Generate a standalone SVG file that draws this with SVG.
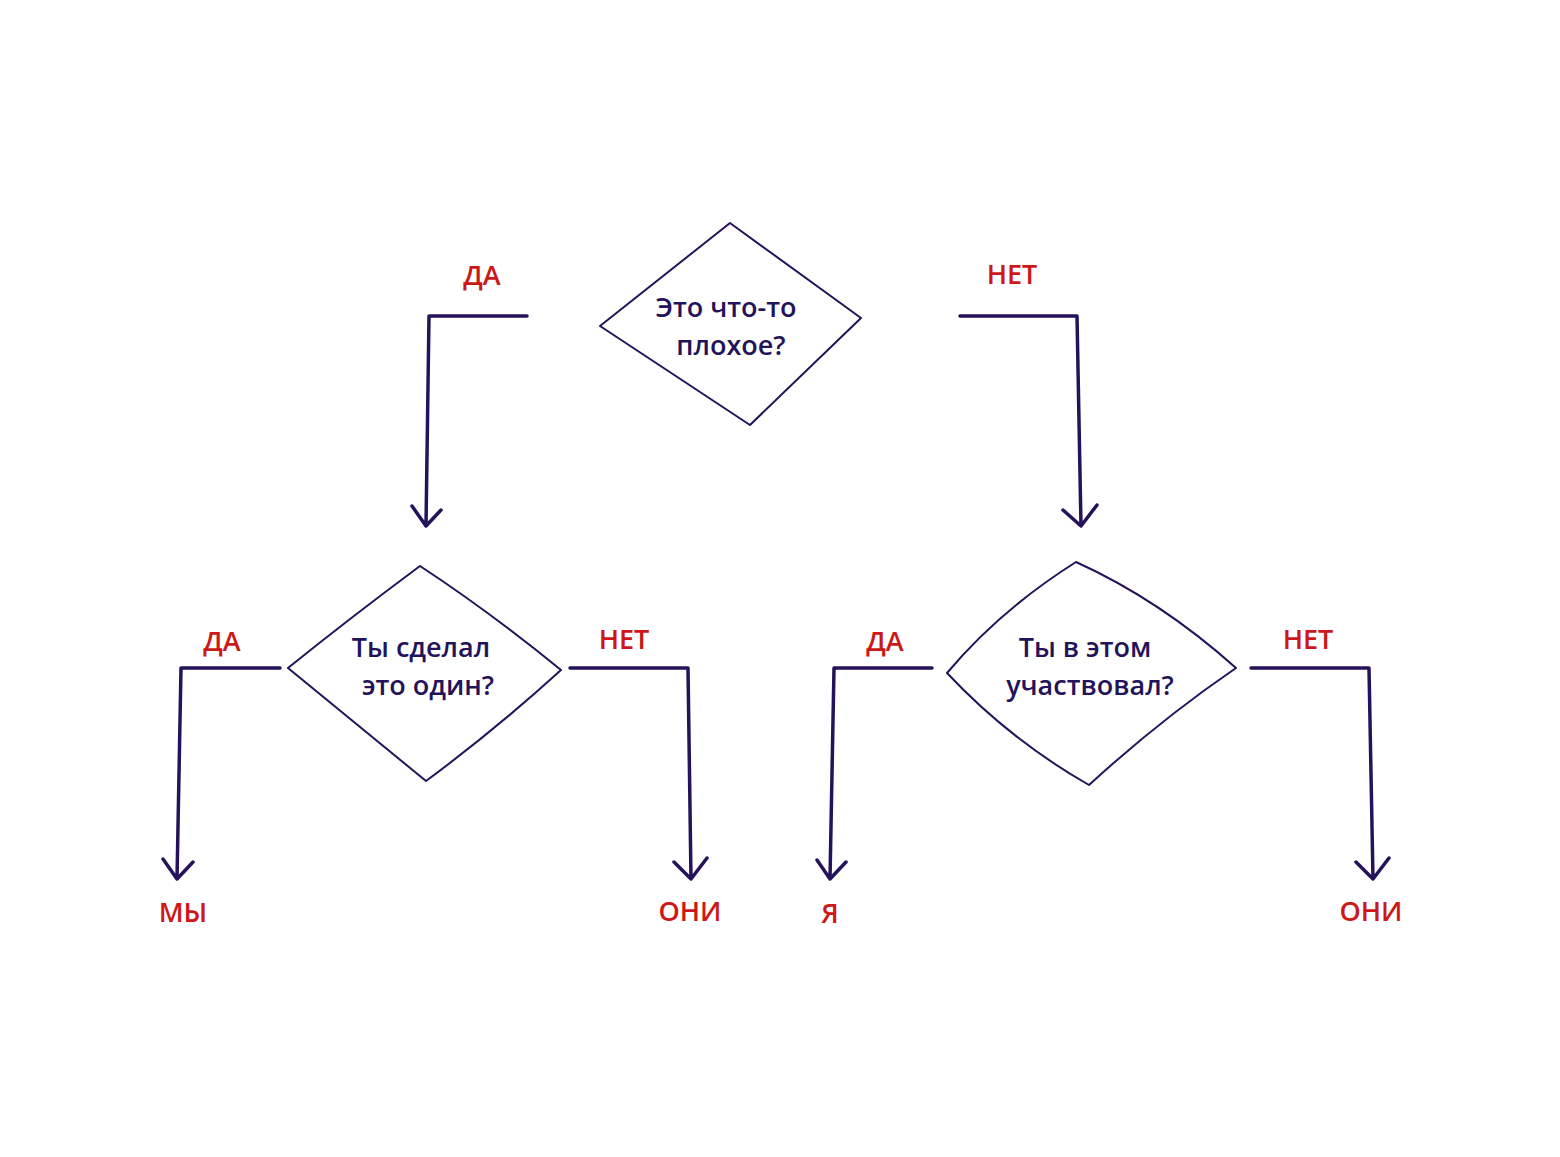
<svg xmlns="http://www.w3.org/2000/svg" width="1560" height="1157" viewBox="0 0 1560 1157">
<style>
.d{fill:none;stroke:#24135a;stroke-width:2;stroke-linejoin:round}
.c{fill:none;stroke:#24135a;stroke-width:3.5;stroke-linecap:round;stroke-linejoin:round}
.t{font-family:"Open Sans","Liberation Sans",sans-serif;font-size:27px;font-weight:600;fill:#24135a;text-anchor:middle}
.l{font-family:"Open Sans","Liberation Sans",sans-serif;font-size:27px;font-weight:600;fill:#cc1818;text-anchor:middle}
</style>
<rect width="1560" height="1157" fill="#fff"/>
<g id="q1"><path class="d" d="M730,223 L861,318 L750,425 L600,326 Z"/>
<text class="t" x="726" y="317">Это что-то</text><text class="t" x="731" y="355">плохое?</text></g>
<g id="q2"><path class="d" d="M420,566 Q490,612 561,670 Q495,730 426,781 L288,668 Q350,618 420,566 Z"/>
<text class="t" x="421" y="657">Ты сделал</text><text class="t" x="428" y="695">это один?</text></g>
<g id="q3"><path class="d" d="M1076,562 Q1160,600 1236,668 Q1160,720 1089,785 Q1010,740 947,673 Q1000,610 1076,562 Z"/>
<text class="t" x="1085" y="657">Ты в этом</text><text class="t" x="1090" y="695">участвовал?</text></g>
<g id="labels">
<text class="l" x="482" y="285">ДА</text><text class="l" x="1012" y="284">НЕТ</text>
<text class="l" x="222" y="651">ДА</text><text class="l" x="624" y="649">НЕТ</text>
<text class="l" x="885" y="651">ДА</text><text class="l" x="1308" y="649">НЕТ</text>
<text class="l" x="183" y="922">МЫ</text><text class="l" x="690" y="921">ОНИ</text>
<text class="l" x="830" y="923">Я</text><text class="l" x="1371" y="921">ОНИ</text>
</g>
<g id="connectors">
<path class="c" d="M527,316 L429,316 L426,526 M412,506 L426,526 L441,510"/>
<path class="c" d="M960,316 L1077,316 L1081,526 M1063,510 L1081,526 L1097,505"/>
<path class="c" d="M280,668 L181,668 L177,879 M163,859 L177,879 L193,862"/>
<path class="c" d="M570,668 L688,668 L691,879 M674,862 L691,879 L707,858"/>
<path class="c" d="M932,668 L834,668 L830,879 M817,860 L830,879 L846,862"/>
<path class="c" d="M1251,668 L1369,668 L1373,879 M1356,862 L1373,879 L1389,858"/>
</g>
</svg>
